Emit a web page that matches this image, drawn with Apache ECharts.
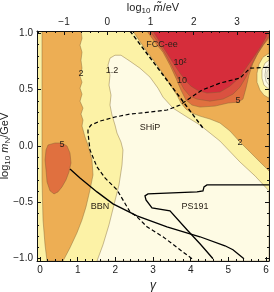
<!DOCTYPE html>
<html><head><meta charset="utf-8">
<script src="https://cdn.jsdelivr.net/npm/echarts@6/dist/echarts.min.js"></script>
<style>html,body{margin:0;padding:0;background:#fff}#c{width:274px;height:292px}</style>
</head><body><div id="c"></div>
<script>
// axis ranges
const gammaRange = [-0.08, 6.08];
const logMRange = [-1.02, 1.02];
const logMtRange = [-1.624, 3.74];
// tick labels
const gammaTicks = [0, 1, 2, 3, 4, 5, 6];
const logMTicks = [-1, -0.5, 0, 0.5, 1];
const logMtTicks = [-1, 0, 1, 2, 3];

// filled contour regions [gamma, log10 mN]
const creamRegion = [[1.513,-1.02],[1.672,-0.876],[1.832,-0.699],[1.964,-0.522],[2.097,-0.345],[2.177,-0.168],[2.203,-0.035],[2.150,0.035],[2.044,0.115],[1.991,0.186],[1.911,0.274],[1.858,0.363],[1.885,0.451],[1.832,0.540],[1.858,0.628],[1.805,0.717],[1.858,0.779],[1.991,0.805],[2.150,0.805],[2.389,0.752],[2.655,0.690],[2.920,0.611],[3.132,0.513],[3.265,0.434],[3.531,0.336],[3.902,0.257],[4.247,0.186],[4.513,0.115],[4.778,0.044],[5.309,-0.142],[5.708,-0.265],[6.08,-0.398],[6.08,-1.02]];
const leftOrange = [[0.053,1.02],[0.053,-0.301],[0.08,-0.655],[0.133,-0.876],[0.186,-1.02],[0.611,-1.02],[0.796,-0.903],[0.982,-0.770],[1.115,-0.655],[1.221,-0.540],[1.327,-0.389],[1.407,-0.257],[1.380,-0.124],[1.274,0.009],[1.195,0.080],[1.115,0.177],[1.141,0.230],[1.088,0.283],[1.141,0.336],[1.062,0.398],[1.115,0.460],[1.062,0.513],[1.115,0.566],[1.062,0.619],[1.115,0.690],[1.088,0.761],[1.115,0.832],[1.062,0.894],[1.115,0.956],[1.088,1.02]];
const leftBlob = [[0.159,-0.035],[0.212,0.009],[0.398,0.027],[0.584,0.027],[0.717,0.0],[0.796,-0.062],[0.823,-0.150],[0.770,-0.230],[0.690,-0.301],[0.584,-0.363],[0.478,-0.407],[0.372,-0.425],[0.265,-0.398],[0.186,-0.319],[0.159,-0.212],[0.133,-0.124]];
const rightOrange = [[2.469,1.02],[2.628,0.938],[2.814,0.850],[3.053,0.743],[3.292,0.628],[3.478,0.531],[3.637,0.451],[3.743,0.381],[3.876,0.327],[4.035,0.292],[4.247,0.265],[4.513,0.239],[4.778,0.204],[5.044,0.133],[5.309,0.035],[5.575,-0.053],[5.840,-0.142],[6.08,-0.221],[6.08,1.02]];
const bubbleYellow = [[6.08,0.823],[5.920,0.788],[5.814,0.726],[5.761,0.646],[5.761,0.566],[5.840,0.496],[5.946,0.451],[6.08,0.425]];
const bubbleCream = [[6.08,0.761],[5.973,0.735],[5.893,0.673],[5.893,0.602],[5.946,0.540],[6.08,0.504]];
const bubbleArc1 = [[6.08,0.726],[6.0,0.690],[5.973,0.628],[6.0,0.575],[6.08,0.540]];
const bubbleArc2 = [[6.08,0.690],[6.026,0.655],[6.026,0.611],[6.08,0.575]];
const band5 = [[2.840,1.02],[3.053,0.920],[3.265,0.832],[3.451,0.717],[3.610,0.602],[3.743,0.496],[3.876,0.407],[4.035,0.363],[4.247,0.345],[4.646,0.354],[4.991,0.381],[5.256,0.389],[5.389,0.416],[5.469,0.513],[5.548,0.628],[5.654,0.735],[5.787,0.823],[5.946,0.903],[6.08,0.956],[6.08,1.02]];
const band10 = [[2.920,1.02],[3.132,0.920],[3.318,0.823],[3.504,0.708],[3.663,0.602],[3.823,0.504],[3.982,0.442],[4.168,0.416],[4.513,0.398],[4.858,0.416],[5.123,0.460],[5.309,0.522],[5.469,0.611],[5.601,0.708],[5.734,0.796],[5.893,0.885],[6.08,0.973],[6.08,1.02]];
const band100 = [[3.0,1.02],[3.186,0.920],[3.371,0.823],[3.557,0.726],[3.717,0.646],[3.876,0.575],[4.009,0.531],[4.168,0.496],[4.433,0.469],[4.778,0.478],[5.044,0.531],[5.309,0.611],[5.522,0.717],[5.708,0.805],[5.867,0.885],[6.0,0.965],[6.053,1.02]];

// experiment lines
const fccLine = [[2.389,1.02],[4.327,0.159]];
const shipLine = [[4.035,-1.0],[3.717,-0.920],[3.265,-0.805],[2.840,-0.717],[2.575,-0.628],[2.389,-0.584],[2.044,-0.389],[1.725,-0.283],[1.513,-0.186],[1.327,-0.035],[1.274,0.115],[1.274,0.150],[1.354,0.186],[1.593,0.221],[1.991,0.257],[2.389,0.283],[2.920,0.301],[3.371,0.319],[3.717,0.363],[3.902,0.407],[4.301,0.496],[4.778,0.558],[5.309,0.602],[5.575,0.690],[6.08,0.699]];
const bbnLine = [[0.796,-0.204],[1.062,-0.283],[1.513,-0.407],[1.938,-0.513],[2.575,-0.619],[3.371,-0.717],[4.247,-0.805],[4.911,-0.885],[5.123,-0.920],[5.415,-1.0]];
const ps191Line = [[6.08,-0.345],[4.433,-0.345],[4.354,-0.363],[4.327,-0.398],[4.168,-0.407],[2.867,-0.425],[2.787,-0.442],[2.814,-0.478],[2.973,-0.549],[3.451,-0.575],[3.902,-0.743],[4.247,-0.867],[4.433,-0.938],[4.593,-1.0]];

// text labels [text, gamma, log10 mN]
const textLabels = [["2",1.088,0.646],["1.2",1.911,0.673],["5",0.584,0.009],["FCC-ee",3.239,0.903],["10²",3.717,0.743],["10",3.770,0.584],["5",5.256,0.407],["2",5.309,0.027],["SHiP",2.920,0.168],["BBN",1.593,-0.540],["PS191",4.115,-0.540]];

const C_CREAM = '#FEFBE4', C_YELLOW = '#FCF2A6', C_ORANGE = '#EDAE54', C_DORANGE = '#E0703F', C_RED1 = '#DA5140', C_RED2 = '#D62D3B';
const EDGE = 'rgba(120,95,50,0.6)';
const FONT = '"Liberation Sans", Arial, sans-serif';

function poly(points, fill, stroke) {
  return { type: 'custom', coordinateSystem: 'cartesian2d', clip: true, silent: true, data: [0],
    renderItem: (p, api) => ({ type: 'polygon', shape: { points: points.map(q => api.coord(q)) },
      style: { fill: fill, stroke: stroke || EDGE, lineWidth: 0.7 } }) };
}
function line(points, dash, width, color) {
  return { type: 'custom', coordinateSystem: 'cartesian2d', clip: true, silent: true, data: [0],
    renderItem: (p, api) => ({ type: 'polyline', shape: { points: points.map(q => api.coord(q)) },
      style: { fill: null, stroke: color || '#000', lineWidth: width, lineDash: dash || null } }) };
}
const textSeries = { type: 'custom', coordinateSystem: 'cartesian2d', clip: true, silent: true,
  data: textLabels.map(t => [t[1], t[2]]),
  renderItem: (p, api) => { const c = api.coord([api.value(0), api.value(1)]); const t = textLabels[p.dataIndex][0];
    return { type: 'text', style: { text: t, x: c[0], y: c[1], fill: '#2a2218', font: '9px ' + FONT, align: 'center', verticalAlign: 'middle' } }; } };

function range(a, b, s, skip) { const r = []; for (let i = Math.round(a / s); i * s <= b + 1e-9; i++) { const v = +(i * s).toFixed(4); if (v < a - 1e-9) continue; if (skip && Math.abs(v / skip - Math.round(v / skip)) < 1e-6) continue; r.push(v); } return r; }
const gMinor = range(gammaRange[0], gammaRange[1], 0.2, 1);
const mMinor = range(logMRange[0], logMRange[1], 0.1, 0.5);
const tMinor = range(logMtRange[0], logMtRange[1], 0.2, 1);

const lab = { color: '#222', fontSize: 10, fontFamily: FONT };
function xAx(pos, mm, major, minor, showLab, fmt, extra) {
  return [Object.assign({ type: 'value', position: pos, min: mm[0], max: mm[1], z: 10, nameMoveOverlap: false,
    axisLine: { show: true, onZero: false, lineStyle: { color: '#111', width: 1 } },
    axisTick: { show: true, inside: true, length: 4, customValues: major, lineStyle: { color: '#111' } },
    axisLabel: { show: showLab, customValues: major, margin: 4, formatter: fmt, ...lab },
    splitLine: { show: false } }, extra || {}),
  { type: 'value', position: pos, min: mm[0], max: mm[1], z: 10,
    axisLine: { show: false, onZero: false }, axisTick: { show: true, inside: true, length: 2, customValues: minor, lineStyle: { color: '#111' } },
    axisLabel: { show: false }, splitLine: { show: false } }];
}
const minus = s => String(s).replace('-', '\u2212');
const nameRich = { s: { fontSize: 8, fontFamily: FONT, color: '#222', verticalAlign: 'bottom', lineHeight: 9 },
  i: { fontSize: 11, fontStyle: 'italic', fontFamily: FONT, color: '#222' } };

const option = {
  animation: false,
  grid: { left: 37, top: 31, width: 232, height: 230, show: true, backgroundColor: C_YELLOW, borderWidth: 0,
    containLabel: false, outerBoundsMode: 'none' },
  xAxis: [
    ...xAx('bottom', gammaRange, gammaTicks, gMinor, true, v => minus(v),
      { name: 'γ', nameLocation: 'middle', nameGap: 19, nameTextStyle: { fontSize: 12, fontStyle: 'italic', fontFamily: FONT, color: '#222' } }),
    ...xAx('top', logMtRange, logMtTicks, tMinor, true, v => minus(v),
      { name: 'log{s|10} {i|m̃}/eV', nameLocation: 'middle', nameGap: 16,
        nameTextStyle: { fontSize: 11, fontFamily: FONT, color: '#222', lineHeight: 15, rich: nameRich } })
  ],
  yAxis: [
    ...xAx('left', logMRange, logMTicks, mMinor, true, v => minus(v.toFixed(1)),
      { name: 'log{s|10} {i|m}{s|N}/GeV', nameLocation: 'middle', nameGap: 25, nameRotate: 90,
        nameTextStyle: { fontSize: 11, fontFamily: FONT, color: '#222', lineHeight: 15, rich: nameRich } }),
    ...xAx('right', logMRange, logMTicks, mMinor, false, null)
  ],
  series: [
    poly(creamRegion, C_CREAM),
    poly(leftOrange, C_ORANGE),
    poly(leftBlob, C_DORANGE),
    poly(rightOrange, C_ORANGE),
    poly(bubbleYellow, C_YELLOW),
    poly(bubbleCream, C_CREAM),
    line(bubbleArc1, null, 0.6, 'rgba(120,110,100,0.7)'),
    line(bubbleArc2, null, 0.6, 'rgba(120,110,100,0.7)'),
    poly(band5, C_DORANGE),
    poly(band10, C_RED1),
    poly(band100, C_RED2),
    line(fccLine, [4, 2.5], 1.4),
    line(shipLine, [4, 2.5], 1.2),
    line(bbnLine, null, 1.3),
    line(ps191Line, null, 1.3),
    textSeries
  ]
};
option.series.forEach(s => { s.xAxisIndex = 0; s.yAxisIndex = 0; });
const chart = echarts.init(document.getElementById('c'), null, { renderer: 'canvas' });
chart.setOption(option);
</script></body></html>
